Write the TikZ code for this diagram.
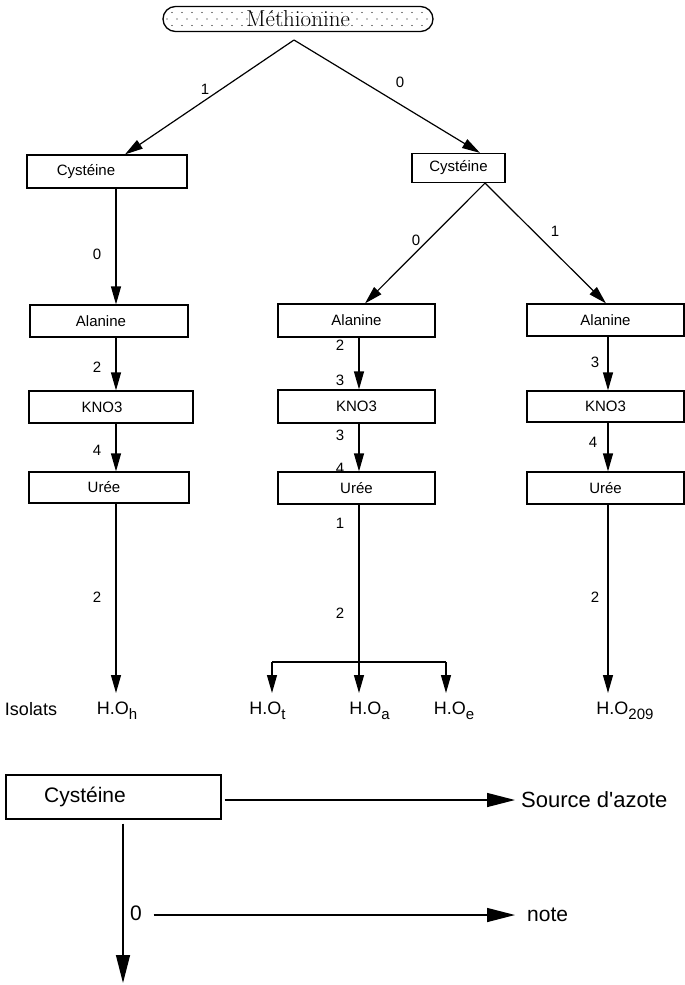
\documentclass[tikz,border=0pt]{standalone}
\usepackage{fontspec}
\setsansfont{Liberation Sans}
\usetikzlibrary{arrows.meta,calc}
\newcommand\isub[1]{\raisebox{-0.45ex}{\fontsize{15}{15}\selectfont #1}}
\begin{document}
\begin{tikzpicture}[x=1pt,y=-1pt,
  bx/.style={draw, line width=1.2pt, inner sep=0pt, font=\sffamily\fontsize{15}{17}\selectfont},
  lbl/.style={inner sep=0pt, font=\sffamily\fontsize{15}{17}\selectfont},
  iso/.style={inner xsep=0pt, inner ysep=9pt, anchor=north, font=\sffamily\fontsize{18}{20}\selectfont},
  leg/.style={inner sep=0pt, font=\sffamily\fontsize{21}{24}\selectfont},
  ln/.style={line width=1.2pt},
  arr/.style={line width=1.2pt, -{Triangle[length=18pt,width=10pt]}},
  bigarr/.style={line width=1.4pt, -{Triangle[length=28pt,width=14pt]}},
]
\fill[white] (0,0) rectangle (685,985);
\useasboundingbox (0,0) rectangle (685,985);

% top node
\node[draw, line width=1.3pt, rounded corners=12.5pt, minimum width=270pt, minimum height=25pt,
      inner sep=0pt, font=\fontsize{23}{26}\selectfont,
      path picture={\foreach \i in {0,...,27}{\foreach \j in {0,1,2}{
        \fill ($(path picture bounding box.north west)+(\i*10+\j*5-1,\j*6.5+6)$) circle (0.7pt);}}}]
      (meth) at (298,19) {Méthionine};
\coordinate (apex) at (294,40);

% columns
\coordinate (colL) at (116,0);
\coordinate (colM) at (359,0);
\coordinate (colR) at (608,0);

% boxes
\node[bx, minimum width=160pt, minimum height=33pt] (cysL) at (107,171.5) {Cystéine\hspace*{42pt}};
\node[bx, minimum width=93pt, minimum height=29pt] (cysR) at (458.5,168) {Cystéine};

\node[bx, minimum width=158pt, minimum height=32pt] (alaL) at (109,321) {Alanine\hspace*{16pt}};
\node[bx, minimum width=164pt, minimum height=32pt] (knoL) at (111,407) {KNO3\hspace*{18pt}};
\node[bx, minimum width=160pt, minimum height=31pt] (ureL) at (109,487.5) {Urée\hspace*{10pt}};

\node[bx, minimum width=157pt, minimum height=33pt] (alaM) at (356.5,320.5) {Alanine};
\node[bx, minimum width=157pt, minimum height=33pt] (knoM) at (356.5,406.5) {KNO3};
\node[bx, minimum width=157pt, minimum height=32pt] (ureM) at (356.5,488) {Urée};

\node[bx, minimum width=157pt, minimum height=32pt] (alaR) at (605.5,320) {Alanine};
\node[bx, minimum width=157pt, minimum height=31pt] (knoR) at (605.5,406.5) {KNO3};
\node[bx, minimum width=157pt, minimum height=32pt] (ureR) at (605.5,488) {Urée};

% isolates
\node[iso] (isol) at (31,693) {Isolats};
\node[iso] (hOh) at (117,693) {H.O\isub{h}};
\node[iso] (hOt) at (267.5,693) {H.O\isub{t}};
\node[iso] (hOa) at (369.5,693) {H.O\isub{a}};
\node[iso] (hOe) at (454,693) {H.O\isub{e}};
\node[iso] (hOr) at (625,693) {H.O\isub{209}};

% top arrows
\draw[arr] (apex) -- ([xshift=18pt]cysL.north);
\draw[arr] (apex) -- ([xshift=21.5pt]cysR.north);
\node[lbl] (t1) at (205,89) {1};
\node[lbl] (t0) at (400,82) {0};

% left column
\draw[arr] (cysL.south -| colL) -- (alaL.north -| colL);
\draw[arr] (alaL.south -| colL) -- (knoL.north -| colL);
\draw[arr] (knoL.south -| colL) -- (ureL.north -| colL);
\draw[arr] (ureL.south -| colL) -- (hOh.north -| colL);
\node[lbl] (a1) at (97,254) {0};
\node[lbl] (a2) at (97,367) {2};
\node[lbl] (a3) at (97,450) {4};
\node[lbl] (a4) at (97,597) {2};

% right Cysteine split
\draw[arr] ([xshift=26.5pt]cysR.south) -- ([xshift=8.5pt]alaM.north);
\draw[arr] ([xshift=26.5pt]cysR.south) -- ([xshift=0.5pt]alaR.north);
\node[lbl] (s0) at (416,240) {0};
\node[lbl] (s1) at (555,231) {1};

% middle column
\draw[arr] (alaM.south -| colM) -- (knoM.north -| colM);
\draw[arr] (knoM.south -| colM) -- (ureM.north -| colM);
\coordinate (barL) at (272,662);
\coordinate (barM) at (359,662);
\coordinate (barR) at (446,662);
\draw[ln] (ureM.south -| colM) -- (barM);
\draw[ln] (barL) -- (barR);
\draw[arr] (barL) -- (hOt.north -| barL);
\draw[arr] (barM) -- (hOa.north -| barM);
\draw[arr] (barR) -- (hOe.north -| barR);
\node[lbl] (b1) at (340,345) {2};
\node[lbl] (b2) at (340,380) {3};
\node[lbl] (b3) at (340,435) {3};
\node[lbl] (b4) at (340,468) {4};
\node[lbl] (b5) at (340,523) {1};
\node[lbl] (b6) at (340,613) {2};

% right column
\draw[arr] (alaR.south -| colR) -- (knoR.north -| colR);
\draw[arr] (knoR.south -| colR) -- (ureR.north -| colR);
\draw[arr] (ureR.south -| colR) -- (hOr.north -| colR);
\node[lbl] (c1) at (595,362) {3};
\node[lbl] (c2) at (593,442) {4};
\node[lbl] (c3) at (595,597) {2};

% legend
\node[bx, line width=1.4pt, minimum width=215pt, minimum height=44pt,
      font=\sffamily\fontsize{21}{24}\selectfont] (legC) at (113.5,797) {Cystéine\hspace*{57pt}};
\node[leg, font=\sffamily\fontsize{22}{24}\selectfont, anchor=west] (src) at (521,800) {Source d\textquotesingle azote};
\draw[bigarr] ([xshift=3pt]legC.east |- src.west) -- ([xshift=-6pt]src.west);
\coordinate (legEnd) at (123,983);
\draw[bigarr] ([yshift=-4pt]legC.south -| legEnd) -- (legEnd);
\node[leg, font=\sffamily\fontsize{21}{24}\selectfont] (z0) at (136,913) {0};
\node[leg, anchor=west] (note) at (527,915) {note};
\draw[bigarr] ([xshift=11.5pt]z0.east |- note.west) -- ([xshift=-12pt]note.west);
\end{tikzpicture}
\end{document}
